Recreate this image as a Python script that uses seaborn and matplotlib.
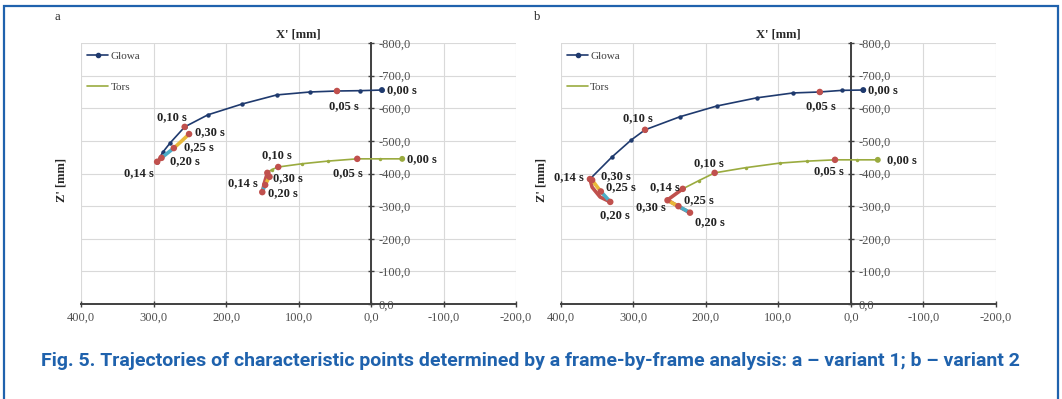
import matplotlib
matplotlib.use("Agg")
import matplotlib.pyplot as plt
import matplotlib.ticker as mticker
from matplotlib.lines import Line2D
from matplotlib.patches import Rectangle
import pandas as pd
import seaborn as sns

# ---- data (X' [mm], Z' [mm]) ----
# variant 1 (panel a)
head_a_x = [-15, 15, 47, 84, 130, 178, 225, 257, 277, 287, 295, 292, 289, 280, 272, 261, 251]
head_a_z = [-656, -654, -653, -650, -641, -613, -580, -543, -494, -466, -436, -442, -448, -464, -478, -500, -521]
tors_a_x = [-43, -12, 19, 60, 95, 128, 137, 143, 147, 150, 148, 146, 143, 140]
tors_a_z = [-445, -445, -445, -438, -430, -420, -412, -402, -372, -343, -355, -365, -378, -390]

# variant 2 (panel b)
head_b_x = [-17, 12, 43, 80, 130, 185, 236, 284, 303, 330, 360, 357, 346, 332, 338, 345, 351, 357]
head_b_z = [-656, -655, -650, -647, -632, -607, -574, -534, -503, -450, -383, -358, -328, -313, -328, -345, -362, -380]
tors_b_x = [-37, -8, 22, 60, 98, 145, 188, 210, 232, 253, 238, 222, 230, 238, 246, 253]
tors_b_z = [-442, -442, -442, -438, -432, -418, -402, -378, -353, -319, -299, -280, -290, -300, -309, -318]

# index of the labelled instants in each series
times = ["0,00 s", "0,05 s", "0,10 s", "0,14 s", "0,20 s", "0,25 s", "0,30 s"]
head_a_idx = [0, 2, 7, 10, 12, 14, 16]
tors_a_idx = [0, 2, 5, 7, 9, 11, 13]
head_b_idx = [0, 2, 7, 10, 13, 15, 17]
tors_b_idx = [0, 2, 6, 8, 11, 13, 15]

# label offsets (pixels) and alignment for each instant (None = not labelled)
head_a_off = [(5, 0, "left"), (7, -15, "center"), (-13, 10, "center"), (-3, -11, "right"),
              (8, -3, "left"), (10, 1, "left"), (6, 2, "left")]
tors_a_off = [(5, 0, "left"), (-9, -14, "center"), (-1, 12, "center"), (-10, -10, "right"),
              (6, -1, "left"), None, (3, -1, "left")]
head_b_off = [(5, 0, "left"), (1, -14, "center"), (-7, 12, "center"), (-6, 2, "right"),
              (5, -13, "center"), (5, 4, "left"), (9, 4, "left")]
tors_b_off = [(9, 0, "left"), (-6, -11, "center"), (-6, 10, "center"), (-3, 2, "right"),
              (5, -9, "left"), (6, 6, "left"), (-2, -7, "right")]

head_col = "#1f3a6e"
tors_col = "#9aab3f"
phase_cols = ["#c0504d", "#4bacc6", "#e8b83a"]
key_col = "#c0504d"

sns.set_style("white")
plt.rcParams["font.family"] = ["Liberation Serif", "DejaVu Serif"]

fig = plt.figure(figsize=(10.62, 3.99), dpi=100)

# blue frame around the figure
fig.patches.append(Rectangle((0.004, -0.2), 0.992, 1.185, transform=fig.transFigure,
                             fill=False, edgecolor="#1f62ad", linewidth=1.6))

fmt = mticker.FuncFormatter(lambda v, _: f"{abs(v) if abs(v) < 1e-9 else v:.1f}".replace(".", ","))


def draw_track(ax, xs, zs, idx, offs, base_col, ms):
    df = pd.DataFrame({"x": xs, "z": zs})
    i14, i20, i25, i30 = idx[3], idx[4], idx[5], idx[6]
    sns.lineplot(data=df.iloc[:i14 + 1], x="x", y="z", sort=False, estimator=None,
                 color=base_col, lw=1.2, marker="o", markersize=ms, markeredgewidth=0,
                 ax=ax, zorder=3)
    for (a, b), c in zip([(i14, i20), (i20, i25), (i25, i30)], phase_cols):
        sns.lineplot(data=df.iloc[a:b + 1], x="x", y="z", sort=False, estimator=None,
                     color=c, lw=2.6, ax=ax, zorder=4)
    keys = df.iloc[idx[1:]]
    sns.scatterplot(data=keys, x="x", y="z", color=key_col, s=22, edgecolor="none",
                    ax=ax, zorder=5)
    sns.scatterplot(data=df.iloc[[0]], x="x", y="z", color=base_col, s=18, edgecolor="none",
                    ax=ax, zorder=5)
    for t, i, off in zip(times, idx, offs):
        if off is None:
            continue
        dx, dy, ha = off
        ax.annotate(t, (xs[i], zs[i]), xytext=(dx, dy), textcoords="offset pixels",
                    ha=ha, va="center", fontsize=9, fontweight="bold", color="#222222",
                    zorder=6)


panels = [
    ("a", 0.0763, head_a_x, head_a_z, head_a_idx, head_a_off, tors_a_x, tors_a_z, tors_a_idx, tors_a_off),
    ("b", 0.5282, head_b_x, head_b_z, head_b_idx, head_b_off, tors_b_x, tors_b_z, tors_b_idx, tors_b_off),
]

for letter, left, hx, hz, hi, ho, tx, tz, ti, to in panels:
    ax = fig.add_axes([left, 0.2381, 0.4096, 0.654])
    ax.set_xlim(400, -200)
    ax.set_ylim(0, -800)
    ax.set_xticks(range(400, -201, -100))
    ax.set_yticks(range(0, -801, -100))
    ax.xaxis.set_major_formatter(fmt)
    ax.yaxis.set_major_formatter(fmt)
    ax.grid(True, color="#d9d9d9", lw=0.8, zorder=0)
    ax.set_axisbelow(True)
    for s in ["top", "left"]:
        ax.spines[s].set_visible(False)
    ax.spines["right"].set_position(("data", 0))
    ax.spines["right"].set_color("#404040")
    ax.spines["right"].set_linewidth(1.4)
    ax.spines["bottom"].set_color("#404040")
    ax.spines["bottom"].set_linewidth(1.4)
    ax.yaxis.set_ticks_position("right")
    ax.xaxis.set_ticks_position("bottom")
    ax.tick_params(axis="both", direction="inout", length=5, width=1, color="#404040",
                   labelsize=9, labelcolor="#505050", pad=3)

    draw_track(ax, tx, tz, ti, to, tors_col, 2.5)
    draw_track(ax, hx, hz, hi, ho, head_col, 3.2)

    ax.set_xlabel("")
    ax.set_ylabel("")
    ax.text(0.5, 1.031, "X' [mm]", transform=ax.transAxes, ha="center", va="center",
            fontsize=9, fontweight="bold")
    ax.text(-0.044, 0.475, "Z' [mm]", transform=ax.transAxes, ha="center", va="center",
            rotation=90, fontsize=9, fontweight="bold")
    fig.text(left - 0.022, 0.957, letter, ha="center", va="center", fontsize=9)

    handles = [Line2D([0, 0.5, 1], [0, 0, 0], color=head_col, lw=1.2, marker="o",
                      markersize=3, markevery=[1]),
               Line2D([], [], color=tors_col, lw=1.2)]
    leg = ax.legend(handles, ["Glowa", "Tors"], loc="upper left", bbox_to_anchor=(0.0138, 0.969),
                    frameon=False, fontsize=8, handlelength=1.9, handletextpad=0.2,
                    labelspacing=1.9, borderpad=0, borderaxespad=0)
    for txt in leg.get_texts():
        txt.set_color("#404040")

fig.text(0.039, 0.095, "Fig. 5. Trajectories of characteristic points determined by a "
         "frame-by-frame analysis: a \u2013 variant 1; b \u2013 variant 2",
         ha="left", va="center", fontsize=14, fontweight="bold", color="#1f62ad",
         family=["Roboto", "DejaVu Sans"])

fig.savefig("out.png", dpi=100)
